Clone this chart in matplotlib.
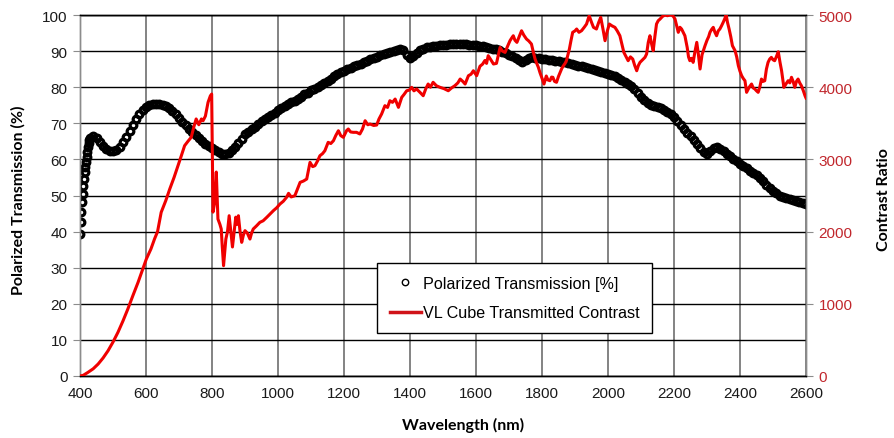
import matplotlib
matplotlib.use("Agg")
import matplotlib.pyplot as plt
from matplotlib.lines import Line2D

# ---------------- data ----------------
trans_wl = [400, 402, 404, 406, 408, 410, 412, 414, 416, 418, 420, 422, 424, 426, 428, 430,
            440, 450, 460, 470, 480, 490, 500, 510, 520, 530, 540, 550, 560, 570, 580, 590,
            600, 610, 620, 630, 640, 650, 660, 670, 680, 690, 700, 710, 720, 730, 740, 750,
            760, 770, 780, 790, 800, 810, 820, 830, 840, 850, 860, 870, 880, 890, 900, 910,
            920, 930, 940, 950, 960, 970, 980, 990, 1000, 1010, 1020, 1030, 1040, 1050, 1060,
            1070, 1080, 1090, 1100, 1110, 1120, 1130, 1140, 1150, 1160, 1170, 1180, 1190, 1200,
            1210, 1220, 1230, 1240, 1250, 1260, 1270, 1280, 1290, 1300, 1310, 1320, 1330, 1340,
            1350, 1360, 1370, 1380, 1390, 1400, 1410, 1420, 1430, 1440, 1450, 1460, 1470, 1480,
            1490, 1500, 1510, 1520, 1530, 1540, 1550, 1560, 1570, 1580, 1590, 1600, 1610, 1620,
            1630, 1640, 1650, 1660, 1670, 1680, 1690, 1700, 1710, 1720, 1730, 1740, 1750, 1760,
            1770, 1780, 1790, 1800, 1810, 1820, 1830, 1840, 1850, 1860, 1870, 1880, 1890, 1900,
            1910, 1920, 1930, 1940, 1950, 1960, 1970, 1980, 1990, 2000, 2010, 2020, 2030, 2040,
            2050, 2060, 2070, 2080, 2090, 2100, 2110, 2120, 2130, 2140, 2150, 2160, 2170, 2180,
            2190, 2200, 2210, 2220, 2230, 2240, 2250, 2260, 2270, 2280, 2290, 2300, 2310, 2320,
            2330, 2340, 2350, 2360, 2370, 2380, 2390, 2400, 2410, 2420, 2430, 2440, 2450, 2460,
            2470, 2480, 2490, 2500, 2510, 2520, 2530, 2540, 2550, 2560, 2570, 2580, 2590, 2600]
trans_pct = [39.3, 42.6, 45.3, 48.1, 50.4, 52.7, 54.6, 56.4, 57.8, 59.2, 60.6, 62.0, 63.3, 64.5, 65.5, 66.0,
             66.5, 65.9, 64.8, 63.6, 62.8, 62.3, 62.3, 62.7, 63.5, 64.7, 66.2, 67.9, 69.6, 71.2, 72.6, 73.7,
             74.5, 75.0, 75.3, 75.4, 75.4, 75.2, 74.8, 74.2, 73.4, 72.5, 71.5, 70.4, 69.4, 68.5, 67.6, 66.7,
             65.8, 65.0, 64.3, 63.7, 63.2, 62.6, 62.0, 61.6, 61.5, 61.8, 62.5, 63.4, 64.5, 65.6, 67.0, 67.7,
             68.4, 69.1, 69.8, 70.5, 71.1, 71.7, 72.3, 72.9, 73.6, 74.2, 74.8, 75.3, 75.8, 76.3, 76.8,
             77.4, 78.0, 78.5, 79.1, 79.6, 80.1, 80.6, 81.2, 81.8, 82.4, 83.0, 83.6, 84.1, 84.6,
             85.0, 85.4, 85.8, 86.2, 86.5, 86.9, 87.3, 87.7, 88.1, 88.5, 88.8, 89.1, 89.4, 89.7,
             90.0, 90.3, 90.5, 90.3, 89.0, 88.0, 88.6, 89.6, 90.3, 90.7, 91.0, 91.2, 91.4, 91.5,
             91.6, 91.7, 91.8, 91.9, 91.9, 92.0, 92.0, 92.0, 91.9, 91.8, 91.7, 91.6, 91.5, 91.3,
             91.1, 90.9, 90.7, 90.5, 90.2, 89.8, 89.4, 89.0, 88.7, 88.2, 87.6, 87.1, 87.6, 88.2,
             88.4, 88.2, 88.0, 87.9, 87.8, 87.6, 87.5, 87.3, 87.2, 87.0, 86.9, 86.6, 86.4, 86.2,
             86.0, 85.8, 85.5, 85.3, 85.1, 84.9, 84.6, 84.3, 84.0, 83.7, 83.4, 83.0, 82.5, 82.0,
             81.5, 81.0, 80.3, 79.5, 78.5, 77.4, 76.4, 75.6, 75.2, 74.9, 74.6, 74.3, 73.8, 73.2,
             72.5, 71.7, 70.7, 69.6, 68.5, 67.4, 66.4, 65.3, 64.2, 63.1, 62.0, 61.4, 62.2, 63.2,
             63.4, 62.9, 62.3, 61.6, 60.9, 60.2, 59.5, 58.8, 58.1, 57.5, 56.9, 56.3, 55.6, 54.8,
             53.9, 53.0, 52.1, 51.3, 50.6, 50.0, 49.6, 49.3, 49.1, 48.8, 48.5, 48.3, 48.0, 47.7]

contrast_wl = [400, 410, 424, 440, 455, 470, 485, 500, 515, 530, 545, 560, 576, 590, 601, 615,
               626, 635, 646, 660, 672, 685, 697, 707, 717, 727, 737, 745, 752, 760, 768, 773,
               780, 788, 795, 799, 803, 808, 813, 818, 824, 828, 831, 835, 842, 847, 852, 857,
               862, 867, 872, 876, 880, 885, 890, 895, 900, 907, 915, 920, 925, 935, 945, 955,
               966, 975, 986, 996, 1006, 1016, 1026, 1032, 1040, 1051, 1060, 1067, 1077, 1087,
               1097, 1105, 1112, 1120, 1127, 1135, 1142, 1152, 1160, 1168, 1175, 1183, 1190, 1198,
               1208, 1213, 1220, 1228, 1238, 1248, 1256, 1264, 1272, 1279, 1290, 1299, 1306, 1314,
               1324, 1332, 1339, 1347, 1355, 1365, 1375, 1382, 1390, 1398, 1405, 1412, 1420, 1430,
               1440, 1448, 1455, 1462, 1470, 1480, 1491, 1503, 1516, 1526, 1536, 1545, 1552, 1560,
               1567, 1577, 1585, 1592, 1602, 1612, 1620, 1627, 1632, 1637, 1645, 1653, 1662, 1668,
               1673, 1680, 1688, 1695, 1703, 1708, 1713, 1718, 1724, 1731, 1738, 1745, 1753, 1760,
               1768, 1774, 1779, 1784, 1789, 1794, 1799, 1806, 1813, 1818, 1824, 1829, 1833, 1838,
               1844, 1850, 1855, 1860, 1865, 1870, 1874, 1883, 1888, 1893, 1900, 1905, 1912, 1920,
               1928, 1935, 1943, 1950, 1956, 1965, 1972, 1978, 1985, 1991, 1998, 2004, 2012, 2021,
               2028, 2036, 2042, 2048, 2055, 2061, 2068, 2075, 2081, 2087, 2092, 2097, 2105, 2112,
               2117, 2122, 2127, 2132, 2137, 2142, 2147, 2152, 2158, 2165, 2173, 2180, 2187, 2193,
               2198, 2203, 2208, 2213, 2218, 2223, 2228, 2233, 2240, 2244, 2248, 2253, 2258, 2263,
               2269, 2274, 2279, 2285, 2290, 2294, 2300, 2305, 2309, 2314, 2319, 2324, 2329, 2334,
               2339, 2344, 2349, 2354, 2358, 2362, 2367, 2372, 2377, 2381, 2385, 2390, 2395, 2400,
               2405, 2410, 2415, 2420, 2428, 2435, 2440, 2445, 2450, 2455, 2460, 2465, 2470, 2475,
               2480, 2485, 2490, 2495, 2500, 2505, 2510, 2516, 2521, 2526, 2530, 2533, 2540, 2546,
               2551, 2556, 2561, 2566, 2571, 2576, 2581, 2586, 2592, 2597, 2600]
contrast_ratio = [0, 10, 50, 100, 166, 250, 350, 470, 605, 760, 928, 1110, 1298, 1480, 1620, 1760,
                  1900, 2000, 2267, 2430, 2590, 2750, 2913, 3050, 3190, 3250, 3306, 3450, 3560, 3480, 3560, 3536,
                  3600, 3790, 3880, 3905, 2270, 2400, 2825, 2174, 2100, 2036, 1800, 1528, 1897, 2000, 2220, 2000,
                  1787, 2000, 2200, 2100, 2220, 2000, 1851, 1950, 2013, 1980, 1897, 1980, 2036, 2080, 2128, 2150,
                  2198, 2240, 2290, 2330, 2382, 2420, 2475, 2530, 2480, 2497, 2600, 2682, 2700, 2728,
                  2959, 2900, 2913, 2980, 3051, 3080, 3120, 3236, 3220, 3259, 3330, 3397, 3330, 3306,
                  3400, 3421, 3380, 3375, 3375, 3352, 3420, 3536, 3480, 3490, 3470, 3476, 3560, 3629,
                  3744, 3720, 3813, 3790, 3836, 3721, 3860, 3900, 3951, 3960, 3998, 3950, 3975, 3930,
                  3882, 3980, 4044, 4000, 4068, 4020, 3998, 3980, 3951, 3990, 4021, 4060, 4113, 4080,
                  4044, 4159, 4180, 4228, 4159, 4290, 4320, 4370, 4330, 4436, 4380, 4321, 4330, 4450,
                  4552, 4500, 4482, 4560, 4644, 4680, 4713, 4650, 4621, 4700, 4782, 4720, 4667, 4640,
                  4598, 4480, 4390, 4330, 4275, 4200, 4137, 4044, 4155, 4100, 4090, 4140, 4137, 4080,
                  4068, 4150, 4206, 4260, 4298, 4330, 4367, 4529, 4650, 4760, 4780, 4806, 4760, 4783,
                  4830, 4875, 4990, 4900, 4829, 4806, 4900, 4967, 4800, 4644, 4780, 4875, 4850, 4829,
                  4780, 4713, 4600, 4483, 4420, 4367, 4420, 4390, 4300, 4228, 4300, 4344, 4380, 4413,
                  4460, 4621, 4713, 4600, 4506, 4700, 4875, 4920, 4945, 4980, 5000, 4990, 5000, 5000,
                  4980, 4945, 4850, 4760, 4830, 4806, 4760, 4713, 4550, 4420, 4367, 4400, 4344, 4480,
                  4621, 4450, 4252, 4450, 4520, 4575, 4650, 4700, 4760, 4800, 4829, 4760, 4713, 4780,
                  4806, 4850, 4898, 4950, 5000, 4900, 4806, 4700, 4575, 4540, 4506, 4420, 4298, 4220,
                  4159, 4120, 4090, 3929, 4000, 4044, 3990, 3975, 3950, 3929, 4000, 4113, 4080, 4090,
                  4250, 4344, 4390, 4413, 4380, 4367, 4420, 4491, 4350, 4228, 4100, 3998, 4050, 4090,
                  4060, 4137, 4080, 3998, 4080, 4113, 4060, 4021, 3950, 3882, 3850]

x_ticks = [400, 600, 800, 1000, 1200, 1400, 1600, 1800, 2000, 2200, 2400, 2600]
left_ticks = [0, 10, 20, 30, 40, 50, 60, 70, 80, 90, 100]
right_ticks = [0, 1000, 2000, 3000, 4000, 5000]

series1_label = "Polarized Transmission [%]"
series2_label = "VL Cube Transmitted Contrast"

# ---------------- figure ----------------
W, H = 894, 439
fig = plt.figure(figsize=(W / 100, H / 100), dpi=100)
L, R, B, T = 80, 806, 377, 16
ax = fig.add_axes([L / W, 1 - B / H, (R - L) / W, (B - T) / H])
ax2 = ax.twinx()

tick_font = dict(family=["Liberation Sans", "DejaVu Sans"], size=11)
label_font = dict(family=["Lato", "DejaVu Sans"], size=11.5, weight="bold")

ax.set_xlim(400, 2600)
ax.set_ylim(0, 100)
ax2.set_ylim(0, 5000)
ax.set_xticks(x_ticks)
ax.set_yticks(left_ticks)
ax2.set_yticks(right_ticks)

# grid
for v in left_ticks:
    ax.axhline(v, color="black", lw=1.0, zorder=0.5)
for v in x_ticks:
    ax.axvline(v, color="#6e6e6e", lw=1.2, zorder=0.4)

# data
ax.plot(trans_wl, trans_pct, linestyle="none", marker="o", markersize=4.8,
        markerfacecolor="none", markeredgecolor="black", markeredgewidth=2.3,
        zorder=3)
ax2.plot(contrast_wl, contrast_ratio, color="#f00000", lw=2.2, zorder=3,
         solid_joinstyle="round")

# spines / ticks
for a in (ax, ax2):
    for s in a.spines.values():
        s.set_color("#8c8c8c")
        s.set_linewidth(1.0)
ax.spines["bottom"].set_color("black")
ax.spines["top"].set_color("black")
ax2.spines["bottom"].set_color("black")
ax2.spines["top"].set_color("black")

ax.tick_params(axis="y", direction="out", length=5, color="#8c8c8c", pad=4,
               labelcolor="#1a1a1a")
ax.tick_params(axis="x", direction="out", length=0, pad=7, labelcolor="#1a1a1a")
ax2.tick_params(axis="y", direction="out", length=5, color="#8c8c8c", pad=4,
                labelcolor="#c1272d")
for lab in ax.get_xticklabels() + ax.get_yticklabels() + ax2.get_yticklabels():
    lab.set_fontfamily(tick_font["family"])
    lab.set_fontsize(tick_font["size"])

# axis labels
fig.text(463 / W, 1 - 425 / H, "Wavelength (nm)", ha="center", va="center", **label_font)
fig.text(18 / W, 1 - 200 / H, "Polarized Transmission (%)", ha="center", va="center",
         rotation=90, **label_font)
fig.text(884 / W, 1 - 200 / H, "Contrast Ratio", ha="center", va="center",
         rotation=90, **label_font)

# legend
handles = [Line2D([], [], linestyle="none", marker="o", markersize=4.6,
                  markerfacecolor="none", markeredgecolor="black", markeredgewidth=1.0),
           Line2D([], [], color="#d0141a", lw=2.5)]
leg = ax2.legend(handles, [series1_label, series2_label], loc="upper left",
                 bbox_to_anchor=(377 / W, 1 - 264 / H), bbox_transform=fig.transFigure,
                 prop=dict(family=["Liberation Sans", "DejaVu Sans"], size=11.6),
                 frameon=True, fancybox=False, framealpha=1, edgecolor="black",
                 handlelength=1.9, handletextpad=0.15, borderpad=0.8, labelspacing=0.9,
                 borderaxespad=0, numpoints=1)
leg.get_frame().set_linewidth(1.0)
leg.set_zorder(10)

fig.savefig("out.png", dpi=100, facecolor="white")
